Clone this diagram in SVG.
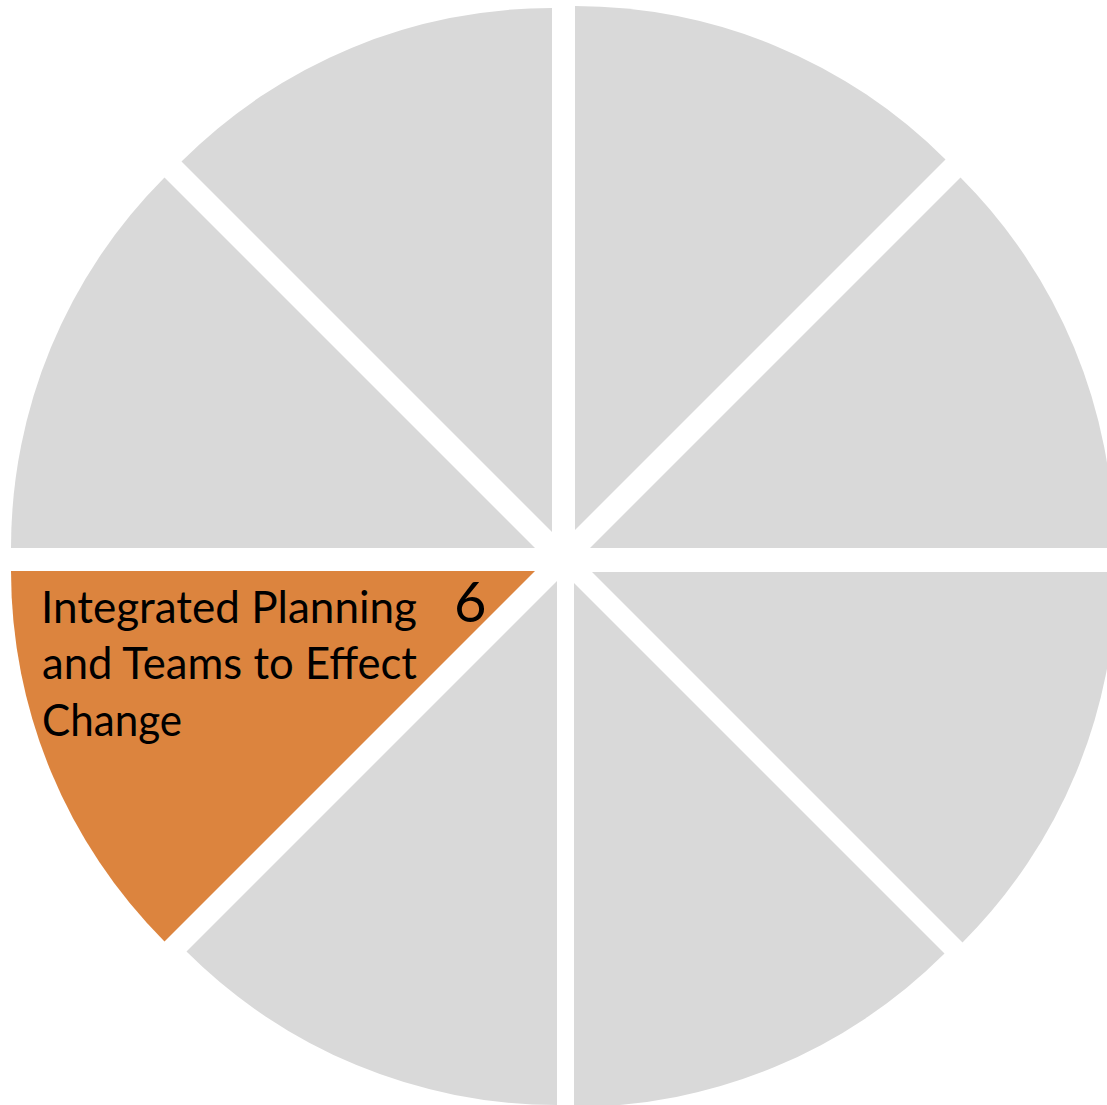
<svg xmlns="http://www.w3.org/2000/svg" width="1107" height="1105" viewBox="0 0 1107 1105">
<style>
.w{fill:#d9d9d9}
.hl{fill:#dc843e}
.t{font-family:Lato,"Liberation Sans",sans-serif;font-size:44px;fill:#000}
.n{font-family:Lato,"Liberation Sans",sans-serif;font-size:56px;fill:#000}
</style>
<rect width="1107" height="1105" fill="#ffffff"/>
<g id="seg1"><path class="w" d="M590,548 L1114,548 A524,524 0 0 0 960.5,177.5 Z"/></g>
<g id="seg2"><path class="w" d="M575,530 L945.5,159.5 A524,524 0 0 0 575,6 Z"/></g>
<g id="seg3"><path class="w" d="M552,532 L552,8 A524,524 0 0 0 181.5,161.5 Z"/></g>
<g id="seg4"><path class="w" d="M535,548 L164.5,177.5 A524,524 0 0 0 11,548 Z"/></g>
<g id="seg6">
<path class="hl" d="M535,571 L11,571 A524,524 0 0 0 164.5,941.5 Z"/>
<text class="t" x="41" y="623" textLength="376" lengthAdjust="spacingAndGlyphs">Integrated Planning</text>
<text class="t" x="42" y="679" textLength="375" lengthAdjust="spacingAndGlyphs">and Teams to Effect</text>
<text class="t" x="42" y="736" textLength="140" lengthAdjust="spacingAndGlyphs">Change</text>
<text class="n" x="454" y="622">6</text>
</g>
<g id="seg7"><path class="w" d="M557,581 L186.5,951.5 A524,524 0 0 0 557,1105 Z"/></g>
<g id="seg8"><path class="w" d="M574,583 L574,1107 A524,524 0 0 0 944.5,953.5 Z"/></g>
<g id="seg5"><path class="w" d="M592,572 L962.5,942.5 A524,524 0 0 0 1116,572 Z"/></g>
<g id="connectors"></g>
</svg>
